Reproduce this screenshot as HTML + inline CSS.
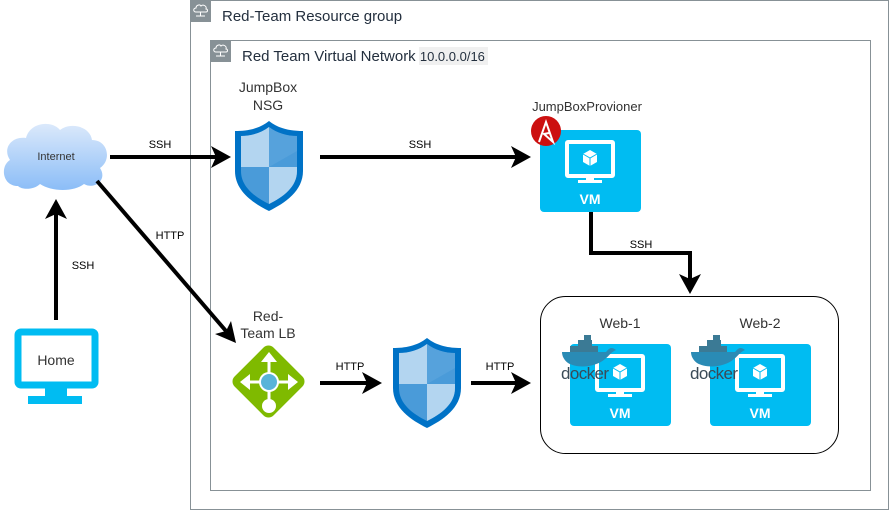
<!DOCTYPE html>
<html><head><meta charset="utf-8"><style>
body{margin:0;background:#fff}
svg{display:block;font-family:"Liberation Sans",sans-serif}
</style></head><body>
<svg width="892" height="511" viewBox="0 0 892 511" xmlns="http://www.w3.org/2000/svg">
<defs>
<linearGradient id="cg" x1="0" y1="0" x2="0" y2="1"><stop offset="0" stop-color="#dbe9fb"/><stop offset="1" stop-color="#8bbdf7"/></linearGradient>
<g id="shield">
<path d="M34 0 C44 8 56 10 68 10 L68 50 C68 70 50 82 34 90 C18 82 0 70 0 50 L0 10 C12 10 24 8 34 0Z" fill="#0072c6"/>
<path d="M34 6 C42 12 52 15 62 15 L62 50 C62 66 48 76 34 83 C20 76 6 66 6 50 L6 15 C16 15 26 12 34 6Z" fill="#4a9bd9"/>
<path d="M6 15 C16 15 26 12 34 6 L34 46 L6 46Z" fill="#b3d5f0"/>
<path d="M34 46 L62 46 L62 50 C62 66 48 76 34 83Z" fill="#b3d5f0"/>
<path d="M34 6 C42 12 52 15 62 15 L62 30 L34 46Z" fill="#5fa7de" opacity="0.6"/>
</g>
<g id="vm">
<rect x="0" y="0" width="101" height="82" rx="4" fill="#00bcf2"/>
<rect x="27" y="12" width="46" height="34" rx="1" fill="none" stroke="#fff" stroke-width="4"/>
<rect x="46" y="46" width="8" height="5" fill="#fff"/>
<rect x="38" y="50" width="24" height="3" fill="#fff"/>
<path d="M50 20 L57 24 L57 32 L50 36 L43 32 L43 24Z" fill="#fff"/>
<path d="M43 24 L50 28 L57 24 M50 28 L50 36" stroke="#00bcf2" stroke-width="1" fill="none"/>
<text x="50" y="74" font-size="14" font-weight="bold" fill="#fff" text-anchor="middle">VM</text>
</g>
<g id="docker">
<path d="M0 14 L44 14 C48 9 50 9 54 12 C49 14 47 18 43 21 C34 29 16 31 6 25 C2 22 0 18 0 14Z" fill="#2a8bb5"/>
<rect x="8" y="8" width="28" height="6" fill="#3b7a95"/>
<rect x="16" y="2" width="14" height="6" fill="#3b7a95"/>
<rect x="22" y="-3" width="7" height="5" fill="#3b7a95"/>
<text x="-1" y="41" font-size="17" fill="#3a4a57" letter-spacing="-0.6">docker</text>
</g>
<g id="cloudicon">
<rect x="0" y="0" width="21" height="22" fill="#879196"/>
<path d="M6 12 C3 12 3 8 6 8 C6 5 10 4 11 6 C13 4 17 6 16 9 C18 9 18 12 16 12Z M10.5 12 V16 M6 16 H15" stroke="#fff" stroke-width="1" fill="none"/>
</g>
</defs>

<rect x="190.5" y="0.5" width="698" height="509" fill="none" stroke="#879196" stroke-width="1"/>
<use href="#cloudicon" x="190" y="0"/>
<text x="222" y="21" font-size="15" fill="#232f3e">Red-Team Resource group</text>
<rect x="210.5" y="40.5" width="660" height="450" fill="none" stroke="#879196" stroke-width="1"/>
<use href="#cloudicon" x="210" y="40"/>
<rect x="419" y="47" width="69" height="18" fill="#f0f0f0"/>
<text x="242" y="61" font-size="15" fill="#232f3e">Red Team Virtual Network <tspan font-size="13">10.0.0.0/16</tspan></text>

<path d="M18 186 C2 186 0 166 10 160 C2 148 12 136 26 138 C30 122 52 120 60 130 C70 122 90 126 92 140 C108 140 112 160 100 168 C108 180 94 190 84 184 C74 192 52 192 40 184 C34 190 22 190 18 186Z" fill="url(#cg)"/>
<text x="56" y="160" font-size="11" fill="#333" text-anchor="middle">Internet</text>

<rect x="18" y="332" width="77" height="53" rx="3" fill="#fff" stroke="#00bcf2" stroke-width="7"/>
<rect x="45" y="388" width="22" height="9" fill="#00bcf2"/>
<rect x="28" y="396" width="54" height="8" fill="#00bcf2"/>
<text x="56" y="365" font-size="14" fill="#333" text-anchor="middle">Home</text>

<g stroke="#000" stroke-width="4" fill="none">
<line x1="110" y1="157" x2="216" y2="157"/>
<line x1="320" y1="157" x2="516" y2="157"/>
<line x1="56" y1="320" x2="56" y2="214"/>
<line x1="97" y1="181" x2="226" y2="331"/>
<polyline points="591,211 591,253 690,253 690,280"/>
<line x1="320" y1="383" x2="368" y2="383"/>
<line x1="471" y1="383" x2="516" y2="383"/>
</g>
<g fill="#000">
<path d="M231 157 L211 146 L216 157 L211 168Z"/>
<path d="M531 157 L511 146 L516 157 L511 168Z"/>
<path d="M56 199 L45 219 L56 214 L67 219Z"/>
<path d="M236 343 L231 321 L226 331 L215 334Z"/>
<path d="M690 294 L679 274 L690 279 L701 274Z"/>
<path d="M382 383 L362 372 L367 383 L362 394Z"/>
<path d="M531 383 L511 372 L516 383 L511 394Z"/>
</g>
<g font-size="11" fill="#000" text-anchor="middle">
<text x="160" y="148">SSH</text>
<text x="420" y="148">SSH</text>
<text x="83" y="269">SSH</text>
<text x="170" y="239">HTTP</text>
<text x="641" y="248">SSH</text>
<text x="350" y="370">HTTP</text>
<text x="500" y="370">HTTP</text>
</g>

<text x="268" y="92" font-size="14" fill="#333" text-anchor="middle">JumpBox</text>
<text x="268" y="110" font-size="14" fill="#333" text-anchor="middle">NSG</text>
<use href="#shield" x="235" y="121"/>
<use href="#shield" x="393" y="338"/>

<text x="268" y="321" font-size="14" fill="#333" text-anchor="middle">Red-</text>
<text x="268" y="338" font-size="14" fill="#333" text-anchor="middle">Team LB</text>
<rect x="241" y="354" width="55" height="55" rx="7" transform="rotate(45 268.5 381.5)" fill="#7fba00"/>
<g stroke="#fff" stroke-width="3" fill="#fff">
<line x1="246" y1="382" x2="291" y2="382"/>
<line x1="269" y1="358" x2="269" y2="404"/>
</g>
<g fill="#fff">
<path d="M240 382 L250 374 L250 390Z"/>
<path d="M298 382 L288 374 L288 390Z"/>
<path d="M269 352 L261 362 L277 362Z"/>
<circle cx="269" cy="406" r="7"/>
<circle cx="269" cy="382" r="10"/>
</g>
<circle cx="269" cy="382" r="8" fill="#59b4d9"/>

<text x="587" y="111" font-size="13" fill="#333" text-anchor="middle">JumpBoxProvioner</text>
<use href="#vm" x="540" y="130"/>
<circle cx="546" cy="131" r="15" fill="#cc1010"/>
<path d="M539 142 L546 122 L553 142 L544 134 L549 133" stroke="#fff" stroke-width="2" fill="none"/>

<rect x="540.5" y="296.5" width="298" height="157" rx="25" fill="none" stroke="#000" stroke-width="1"/>
<text x="620" y="328" font-size="14" fill="#333" text-anchor="middle">Web-1</text>
<text x="760" y="328" font-size="14" fill="#333" text-anchor="middle">Web-2</text>
<use href="#vm" x="570" y="344"/>
<use href="#vm" x="710" y="344"/>
<use href="#docker" x="562" y="338"/>
<use href="#docker" x="691" y="338"/>
</svg>
</body></html>
